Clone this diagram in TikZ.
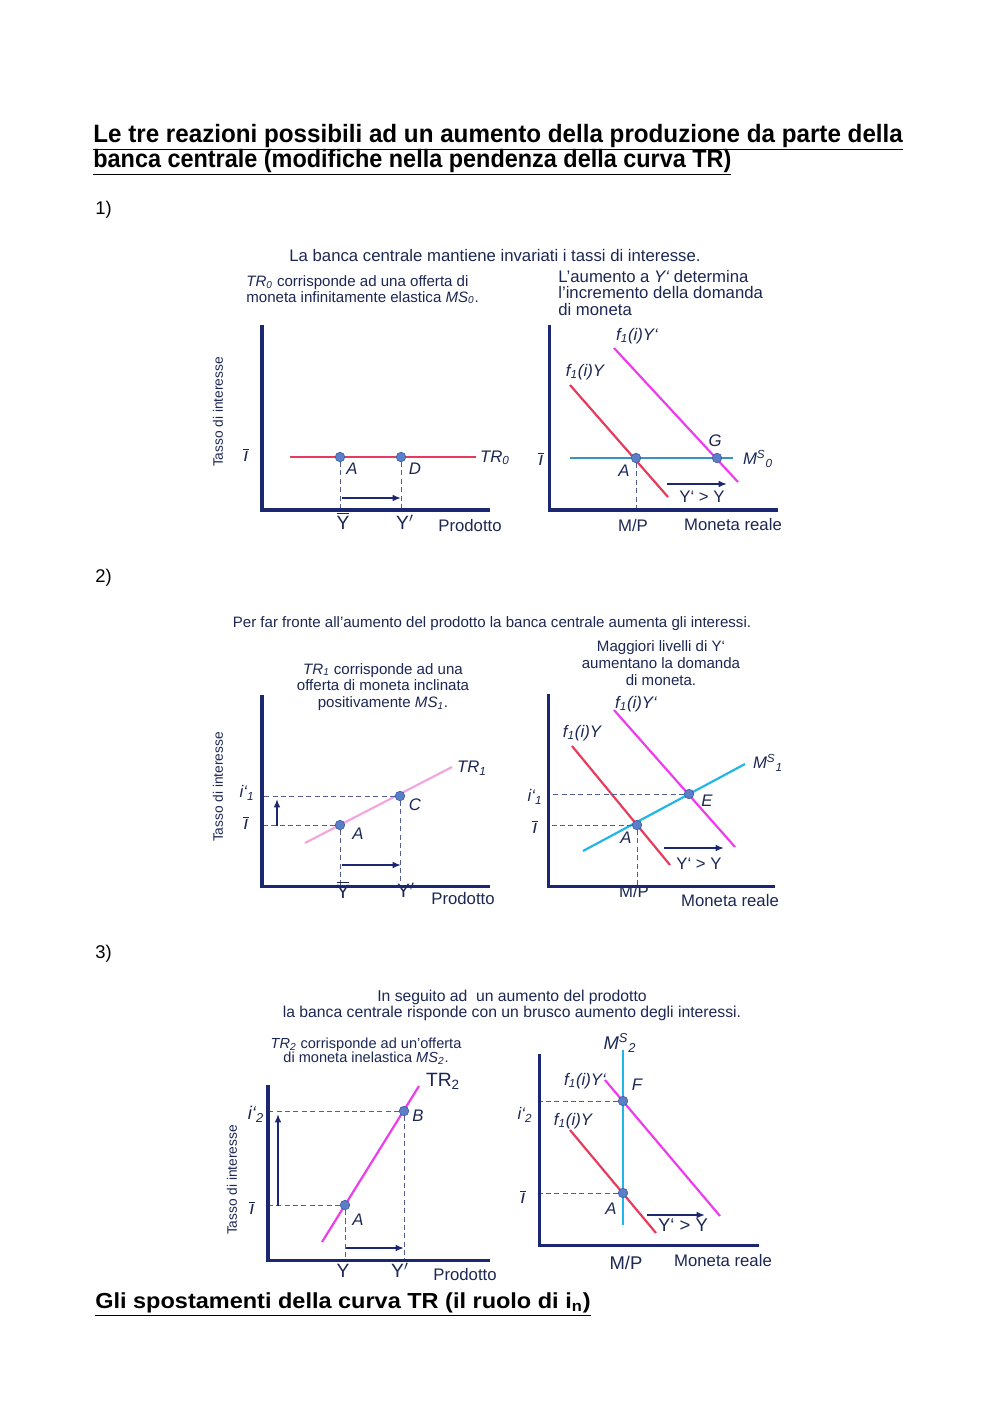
\documentclass[tikz,border=0pt]{standalone}
\usepackage{fontspec}
\setmainfont{Liberation Sans}
\usepackage{graphicx}
\usepackage{tikz}
\usetikzlibrary{arrows.meta}

\definecolor{axisblue}{HTML}{1B2770}
\definecolor{txtblue}{HTML}{1C2754}
\definecolor{curvered}{HTML}{E63B5C}
\definecolor{curvemag}{HTML}{EC3CEC}
\definecolor{curvepink}{HTML}{F3A6DE}
\definecolor{msblue}{HTML}{3A92C4}
\definecolor{mscyan}{HTML}{22B6E8}
\definecolor{ptblue}{HTML}{5A7FC8}
\definecolor{ptedge}{HTML}{3C5EA6}

\tikzset{
  axis/.style={draw=axisblue, line width=1.8pt},
  demold/.style={draw=curvered, line width=1.3pt},
  demnew/.style={draw=curvemag, line width=1.3pt},
  supply/.style={draw=#1, line width=1.3pt},
  guide/.style={draw=axisblue!75, densely dashed, line width=0.45pt},
  moveright/.style={draw=axisblue, line width=1.2pt, -{Latex[length=5pt,width=4pt]}},
  pt/.style={circle, fill=ptblue, draw=ptedge, line width=0.4pt, minimum size=2mm, inner sep=0pt},
  lab/.style={font=\fontsize{10}{11}\selectfont, text=txtblue, inner sep=1pt},
  ptlab/.style={font=\fontsize{10}{11}\selectfont\itshape, text=txtblue, inner sep=1pt},
  big/.style={font=\fontsize{11.5}{12}\selectfont, text=txtblue, inner sep=1pt},
  ylab/.style={font=\fontsize{8.2}{9}\selectfont, text=txtblue, rotate=90},
  note/.style={font=\fontsize{9}{10}\selectfont, text=txtblue, inner sep=0pt},
  head/.style={font=\fontsize{15}{17}\selectfont\bfseries, anchor=base west, inner sep=0pt},
  num/.style={font=\fontsize{11}{12}\selectfont, anchor=base west, inner sep=0pt}
}

\newcommand{\ibar}{$\overline{\mbox{\itshape\i}}$}
\newcommand{\Ybar}{$\overline{\mbox{Y}}$}

\begin{document}
\begin{tikzpicture}[x=0.21mm, y=-0.21mm]
\fill[white] (0,0) rectangle (1000,1415);
\useasboundingbox (0,0) rectangle (1000,1415);

% --- Page text ---
\node[head] (title1) at (93,142) {\resizebox{170mm}{\height}{\underline{Le tre reazioni possibili ad un aumento della produzione da parte della}}};
\node[head] (title2) at (93,167) {\resizebox{134mm}{\height}{\underline{banca centrale (modifiche nella pendenza della curva TR)}}};
\node[num] (n1) at (95,214) {1)};
\node[num] (n2) at (95,582) {2)};
\node[num] (n3) at (95,958) {3)};
\node[head, font=\fontsize{13}{15}\selectfont\bfseries] (title3) at (95,1308) {\resizebox{104mm}{\height}{\underline{Gli spostamenti della curva TR (il ruolo di i\textsubscript{n})}}};

% --- 1) left: TR_0 ---
\node[note, font=\fontsize{10}{11}\selectfont] (h1) at (495,256) {La banca centrale mantiene invariati i tassi di interesse.};
\node[note, anchor=west, align=left, font=\fontsize{9}{9}\selectfont] (s1) at (246,290)
  {\textit{TR\textsubscript{0}} corrisponde ad una offerta di\\moneta infinitamente elastica \textit{MS\textsubscript{0}}.};
\draw[supply=curvered] (290,457) -- (476,457);
\node[pt] (A1) at (340,457) {};
\node[pt] (D1) at (401,457) {};
\coordinate (O1) at (262,510);
\draw[guide] (A1) -- (A1 |- O1);
\draw[guide] (D1) -- (D1 |- O1);
\draw[moveright] (342,498) -- (401,498);
\draw[axis] (262,325) -- (O1) -- (490,510);
\node[ptlab] at (352,469) {A};
\node[ptlab] at (415,469) {D};
\node[ptlab] at (495,458) {TR\textsubscript{0}};
\node[big] at (246,455) {\ibar};
\node[big] at (343,521) {\Ybar};
\node[big] at (405,522) {Y$'$};
\node[lab] at (470,526) {Prodotto};
\node[ylab] at (218,412) {Tasso di interesse};

% --- 1) right: money market ---
\node[note, anchor=west, align=left, font=\fontsize{10}{9.6}\selectfont] (s2) at (558,293)
  {L'aumento a \textit{Y‘} determina\\l'incremento della domanda\\di moneta};
\draw[demnew] (614,348) -- (738,482);
\draw[demold] (570,385) -- (668,497);
\draw[supply=msblue] (570,458) -- (733,458);
\node[pt] (A2) at (636,458) {};
\node[pt] (G2) at (717,458) {};
\coordinate (O2) at (549,510);
\draw[guide] (A2) -- (A2 |- O2);
\draw[moveright] (667,484) -- (727,484);
\draw[axis] (549,325) -- (O2) -- (778,510);
\node[ptlab] at (637,336) {f\textsubscript{1}(i)Y‘};
\node[ptlab] at (585,372) {f\textsubscript{1}(i)Y};
\node[ptlab] at (715,441) {G};
\node[ptlab] at (624,471) {A};
\node[big] at (541,459) {\ibar};
\node[ptlab] at (758,459) {M\textsuperscript{S}\textsubscript{0}};
\node[lab] at (702,497) {Y‘ > Y};
\node[lab] at (633,526) {M/P};
\node[lab] at (733,525) {Moneta reale};

% --- 2) left: TR_1 ---
\node[note] (h2) at (492,624) {Per far fronte all'aumento del prodotto la banca centrale aumenta gli interessi.};
\node[note, align=center] (s3) at (383,687)
  {\textit{TR\textsubscript{1}} corrisponde ad una\\offerta di moneta inclinata\\positivamente \textit{MS\textsubscript{1}}.};
\draw[supply=curvepink] (305,843) -- (452,767);
\node[pt] (A3) at (340,825) {};
\node[pt] (C3) at (400,796) {};
\coordinate (O3) at (262,886);
\draw[guide] (A3) -- (A3 |- O3);
\draw[guide] (C3) -- (C3 |- O3);
\draw[guide] (A3) -- (A3 -| O3);
\draw[guide] (C3) -- (C3 -| O3);
\draw[moveright] (277,826) -- (277,799);
\draw[moveright] (342,865) -- (401,865);
\node[big] at (343,890) {\Ybar};
\node[big] at (406,890) {Y$'$};
\draw[axis] (262,695) -- (O3) -- (490,886);
\node[ptlab] at (358,834) {A};
\node[ptlab] at (415,805) {C};
\node[ptlab] at (472,768) {TR\textsubscript{1}};
\node[ptlab] at (247,793) {i‘\textsubscript{1}};
\node[big] at (246,823) {\ibar};
\node[lab] at (463,899) {Prodotto};
\node[ylab] at (218,787) {Tasso di interesse};

% --- 2) right: money market ---
\node[note, align=center] (s4) at (661,663)
  {Maggiori livelli di Y‘\\aumentano la domanda\\di moneta.};
\draw[demnew] (614,710) -- (735,847);
\draw[demold] (572,746) -- (670,865);
\draw[supply=mscyan] (583,851) -- (745,764);
\node[pt] (E4) at (689,794) {};
\node[pt] (A4) at (637,825) {};
\coordinate (O4) at (548,886);
\draw[guide] (E4) -- (E4 -| O4);
\draw[guide] (A4) -- (A4 -| O4);
\draw[guide] (A4) -- (A4 |- O4);
\draw[moveright] (664,848) -- (724,848);
\node[lab] at (634,892) {M/P};
\draw[axis] (548,694) -- (O4) -- (775,886);
\node[ptlab] at (636,704) {f\textsubscript{1}(i)Y‘};
\node[ptlab] at (582,733) {f\textsubscript{1}(i)Y};
\node[ptlab] at (768,763) {M\textsuperscript{S}\textsubscript{1}};
\node[ptlab] at (707,801) {E};
\node[ptlab] at (626,838) {A};
\node[ptlab] at (535,797) {i‘\textsubscript{1}};
\node[big] at (535,827) {\ibar};
\node[lab] at (699,864) {Y‘ > Y};
\node[lab] at (730,901) {Moneta reale};

% --- 3) left: TR_2 ---
\node[note, align=center, font=\fontsize{9.4}{9.6}\selectfont] (h3) at (512,1005)
  {In seguito ad\ \ un aumento del prodotto\\la banca centrale risponde con un brusco aumento degli interessi.};
\node[note, align=center, font=\fontsize{8.7}{8.4}\selectfont] (s5) at (366,1051)
  {\textit{TR\textsubscript{2}} corrisponde ad un'offerta\\di moneta inelastica \textit{MS\textsubscript{2}}.};
\draw[demnew] (322,1242) -- (419,1086);
\node[pt] (A5) at (345,1205) {};
\node[pt] (B5) at (404,1111) {};
\coordinate (O5) at (268,1260);
\draw[guide] (A5) -- (A5 |- O5);
\draw[guide] (B5) -- (B5 |- O5);
\draw[guide] (A5) -- (A5 -| O5);
\draw[guide] (B5) -- (B5 -| O5);
\draw[moveright] (278,1206) -- (278,1114);
\draw[moveright] (346,1248) -- (404,1248);
\draw[axis] (268,1085) -- (O5) -- (490,1260);
\node[big] at (443,1081) {TR\textsubscript{2}};
\node[ptlab] at (358,1220) {A};
\node[ptlab] at (418,1116) {B};
\node[ptlab, font=\fontsize{11}{12}\selectfont\itshape] at (256,1114) {i‘\textsubscript{2}};
\node[big] at (252,1208) {\ibar};
\node[big] at (343,1269) {\Ybar};
\node[big] at (400,1270) {Y$'$};
\node[lab] at (465,1275) {Prodotto};
\node[ylab] at (232,1180) {Tasso di interesse};

% --- 3) right: money market ---
\draw[supply=mscyan] (623,1050) -- (623,1225);
\draw[demnew] (605,1080) -- (720,1216);
\draw[demold] (570,1130) -- (656,1233);
\node[pt] (F6) at (623,1101) {};
\node[pt] (A6) at (623,1193) {};
\coordinate (O6) at (539,1245);
\draw[guide] (F6) -- (F6 -| O6);
\draw[guide] (A6) -- (A6 -| O6);
\draw[moveright] (647,1215) -- (705,1215);
\draw[axis] (539,1054) -- (O6) -- (759,1245);
\node[ptlab, font=\fontsize{11}{12}\selectfont\itshape] at (620,1043) {M\textsuperscript{S}\textsubscript{2}};
\node[ptlab] at (585,1081) {f\textsubscript{1}(i)Y‘};
\node[ptlab] at (573,1121) {f\textsubscript{1}(i)Y};
\node[ptlab] at (637,1085) {F};
\node[ptlab] at (611,1209) {A};
\node[ptlab] at (525,1115) {i‘\textsubscript{2}};
\node[big] at (523,1197) {\ibar};
\node[lab, font=\fontsize{11}{12}\selectfont] at (683,1225) {Y‘ > Y};
\node[lab, font=\fontsize{11}{12}\selectfont] at (626,1263) {M/P};
\node[lab] at (723,1261) {Moneta reale};
\end{tikzpicture}
\end{document}
